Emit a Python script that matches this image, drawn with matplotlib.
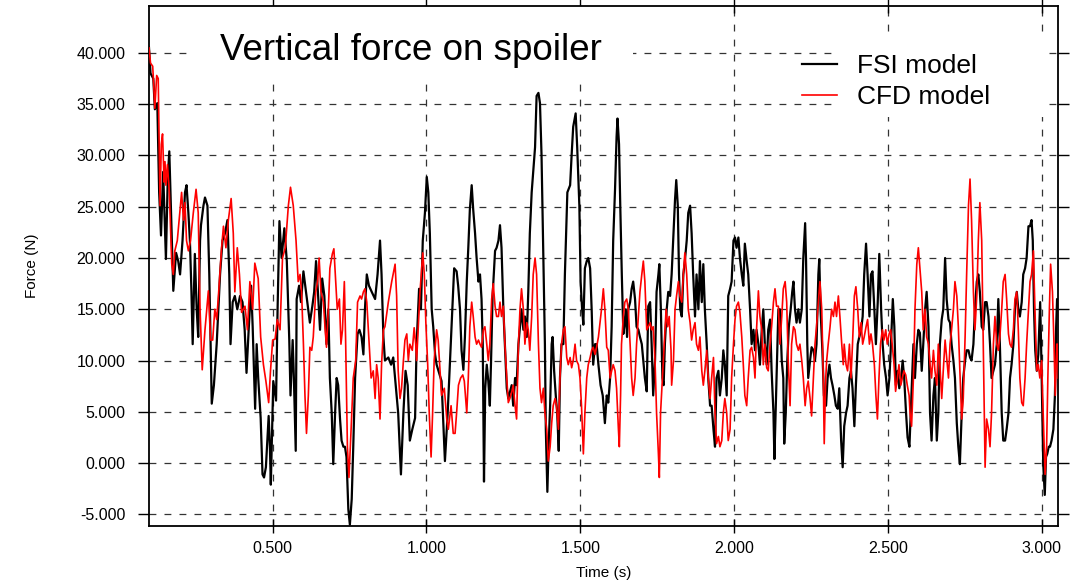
import numpy as np
import matplotlib
matplotlib.use("Agg")
import matplotlib.pyplot as plt
from matplotlib.patches import Rectangle
from matplotlib.ticker import FormatStrFormatter

plt.rcParams['font.family'] = ['Liberation Sans', 'DejaVu Sans']

# time (s), force (N)
fsi = np.array([
    (0.098, 40.5), (0.103, 38.0), (0.112, 37.5), (0.117, 34.5), (0.125, 35.1), (0.131, 26.4),
    (0.137, 22.2), (0.144, 28.4), (0.153, 19.9), (0.159, 27.8), (0.164, 30.4), (0.169, 25.1),
    (0.177, 16.8), (0.186, 20.5), (0.193, 19.7), (0.199, 18.4), (0.207, 21.7), (0.215, 26.4),
    (0.220, 27.1), (0.226, 24.4), (0.231, 21.7), (0.236, 16.7), (0.240, 11.6), (0.247, 20.4),
    (0.253, 15.0), (0.258, 12.3), (0.264, 21.7), (0.267, 23.2), (0.275, 25.1), (0.280, 25.9),
    (0.288, 25.1), (0.294, 18.4), (0.302, 5.8), (0.309, 7.6), (0.318, 11.6), (0.329, 18.4),
    (0.337, 21.7), (0.345, 22.4), (0.353, 23.7), (0.359, 18.4), (0.363, 11.6), (0.370, 15.7),
    (0.377, 16.3), (0.385, 15.0), (0.394, 16.3), (0.402, 15.7), (0.409, 13.0), (0.415, 8.8),
    (0.422, 13.0), (0.430, 17.3), (0.435, 13.3), (0.443, 5.3), (0.448, 11.6), (0.453, 8.3),
    (0.461, 4.4), (0.467, -1.1), (0.472, -1.4), (0.478, -0.4), (0.487, 4.6), (0.491, 1.6),
    (0.494, -2.1), (0.502, 8.0), (0.511, 6.1), (0.516, 15.0), (0.522, 23.6), (0.529, 20.0),
    (0.538, 22.9), (0.546, 19.7), (0.554, 12.0), (0.558, 6.6), (0.565, 12.0), (0.569, 8.3),
    (0.575, 1.2),
    (0.578, 16.0), (0.586, 17.3), (0.592, 15.7), (0.600, 18.7), (0.610, 16.3), (0.621, 13.7),
    (0.629, 15.3), (0.635, 16.7), (0.641, 19.7), (0.646, 17.3), (0.654, 13.0), (0.661, 18.0),
    (0.668, 16.3), (0.675, 11.6), (0.681, 15.0), (0.686, 8.3), (0.692, 4.9), (0.697, -0.1),
    (0.703, 4.9), (0.708, 8.3), (0.713, 7.6), (0.719, 4.3), (0.724, 2.2), (0.730, 1.6),
    (0.735, 1.6), (0.740, 0.6), (0.746, -4.5), (0.751, -6.0), (0.757, -3.5), (0.762, 1.6),
    (0.768, 8.3), (0.776, 12.6), (0.782, 13.0), (0.789, 12.3), (0.795, 10.6), (0.800, 15.0),
    (0.806, 18.4), (0.813, 17.3), (0.822, 16.7), (0.833, 16.0), (0.841, 18.4), (0.849, 21.7),
    (0.854, 18.4), (0.860, 12.3), (0.865, 10.0), (0.876, 10.3), (0.885, 9.6), (0.892, 10.3),
    (0.898, 8.3), (0.908, 4.9), (0.917, -1.1), (0.925, 4.9), (0.932, 9.0), (0.939, 7.6),
    (0.946, 2.2), (0.954, 3.3), (0.963, 4.4), (0.968, 11.6), (0.976, 17.0), (0.982, 15.0),
    (0.988, 21.7), (0.995, 24.4), (1.001, 27.9), (1.006, 26.4), (1.011, 22.4), (1.017, 15.0),
    (1.022, 13.3), (1.028, 10.6), (1.033, 9.6), (1.039, 9.0), (1.049, 8.0), (1.060, 0.2),
    (1.069, 4.9), (1.076, 9.6), (1.084, 15.0), (1.090, 19.0),
    (1.098, 18.7), (1.103, 17.3), (1.109, 15.0), (1.114, 11.0), (1.120, 9.1), (1.125, 12.3),
    (1.131, 17.7), (1.136, 21.0), (1.141, 24.7), (1.147, 27.1), (1.152, 24.7), (1.158, 22.4),
    (1.163, 20.0), (1.169, 17.7), (1.174, 18.4), (1.179, 16.0), (1.183, 11.6), (1.187, -1.8),
    (1.191, 7.3), (1.196, 9.6), (1.201, 8.0), (1.206, 5.6), (1.210, 10.0), (1.215, 16.3),
    (1.223, 20.7), (1.228, 21.0), (1.234, 21.7), (1.239, 23.2), (1.244, 21.0), (1.250, 15.0),
    (1.255, 11.6), (1.261, 7.3), (1.266, 6.3), (1.271, 6.9), (1.277, 7.6), (1.282, 5.6),
    (1.288, 8.3), (1.293, 7.6), (1.299, 11.6), (1.304, 13.3), (1.309, 15.0), (1.315, 13.0),
    (1.320, 14.3), (1.326, 12.3), (1.331, 16.7), (1.336, 22.4), (1.342, 26.4), (1.347, 28.4),
    (1.353, 30.8), (1.358, 35.8), (1.364, 36.1), (1.369, 35.1), (1.374, 30.1), (1.380, 20.0),
    (1.385, 11.6), (1.388, 3.3), (1.393, -2.8), (1.397, 1.6), (1.402, 5.6), (1.407, 11.6),
    (1.410, 12.3), (1.415, 9.0), (1.421, 6.3), (1.425, 4.9), (1.430, 1.2), (1.434, 8.3),
    (1.439, 11.6), (1.445, 11.6), (1.450, 18.4), (1.458, 26.4), (1.467, 27.1), (1.472, 30.1),
    (1.477, 32.8), (1.485, 34.1), (1.490, 30.8), (1.497, 25.1), (1.501, 17.7), (1.506, 15.0),
    (1.510, 13.5), (1.515, 19.0), (1.521, 19.7), (1.526, 20.0), (1.532, 19.0), (1.537, 15.0),
    (1.542, 9.6), (1.548, 11.6), (1.553, 11.6), (1.559, 9.6), (1.566, 7.6), (1.573, 6.6),
    (1.580, 3.9),
    (1.586, 6.6), (1.591, 5.9), (1.597, 8.3), (1.602, 13.3), (1.607, 21.7), (1.613, 26.7),
    (1.618, 31.8), (1.621, 33.6), (1.626, 31.1), (1.630, 25.1), (1.635, 18.4), (1.640, 12.6),
    (1.643, 13.3), (1.648, 15.0), (1.652, 12.3), (1.656, 15.0), (1.662, 15.7), (1.667, 17.0),
    (1.672, 17.7), (1.678, 16.0), (1.683, 13.3), (1.689, 13.0), (1.694, 12.3), (1.700, 11.6),
    (1.705, 10.0), (1.710, 8.3), (1.716, 7.0), (1.721, 15.3), (1.727, 15.7), (1.732, 11.6),
    (1.737, 6.6), (1.743, 10.0), (1.748, 16.7), (1.754, 18.4), (1.757, 19.4), (1.762, 15.0),
    (1.767, 8.3), (1.771, 7.6), (1.775, 11.6), (1.781, 15.0), (1.786, 16.7), (1.792, 16.3),
    (1.797, 18.4), (1.802, 21.7), (1.808, 25.7), (1.812, 27.6), (1.817, 25.1), (1.821, 18.4),
    (1.825, 15.0), (1.830, 14.3), (1.835, 18.4), (1.840, 19.7), (1.846, 21.7), (1.851, 24.4),
    (1.857, 25.1), (1.862, 22.4), (1.867, 18.4), (1.873, 14.3), (1.878, 18.4), (1.884, 15.0),
    (1.889, 19.7), (1.895, 15.7), (1.900, 19.4), (1.905, 15.0), (1.911, 11.6), (1.916, 8.3),
    (1.922, 5.6), (1.927, 5.6), (1.933, 3.3), (1.938, 1.6), (1.943, 8.3), (1.949, 9.0),
    (1.954, 6.6), (1.960, 8.3), (1.965, 11.0), (1.970, 9.6), (1.976, 6.6), (1.981, 16.3),
    (1.987, 17.0), (1.992, 17.7), (1.998, 21.7), (2.003, 22.0), (2.008, 21.0), (2.014, 22.0),
    (2.019, 20.0), (2.025, 18.4), (2.030, 17.3), (2.035, 21.4), (2.041, 19.7), (2.046, 18.4),
    (2.052, 15.0), (2.057, 11.6), (2.063, 13.0), (2.068, 11.0), (2.073, 13.0), (2.079, 11.6),
    (2.084, 9.6),
    (2.090, 13.0), (2.095, 15.0), (2.100, 11.6), (2.106, 9.6), (2.111, 13.0), (2.117, 14.0),
    (2.122, 9.0), (2.128, 4.9), (2.131, 0.4), (2.135, 4.9), (2.141, 11.6), (2.144, 15.0),
    (2.149, 15.0), (2.155, 10.0), (2.160, 8.3), (2.163, 1.9), (2.168, 4.9), (2.173, 10.0),
    (2.178, 13.3), (2.184, 15.0), (2.189, 16.7), (2.193, 17.7), (2.198, 15.0), (2.203, 13.7),
    (2.209, 15.0), (2.214, 13.7), (2.220, 15.0), (2.225, 20.0), (2.231, 23.4), (2.234, 19.7),
    (2.238, 11.6), (2.241, 8.3), (2.247, 10.0), (2.252, 11.3), (2.258, 11.0), (2.263, 10.0),
    (2.268, 11.6), (2.274, 18.4), (2.277, 19.9), (2.281, 15.0), (2.287, 11.0), (2.292, 6.6),
    (2.299, 5.6), (2.304, 8.3), (2.310, 9.6), (2.315, 8.3), (2.320, 7.6), (2.326, 6.6),
    (2.331, 5.6), (2.337, 5.3), (2.342, 7.3), (2.348, 2.2), (2.353, -0.4), (2.358, 3.6),
    (2.364, 4.9), (2.369, 5.6), (2.375, 8.3), (2.380, 9.0), (2.385, 7.3), (2.391, 3.6),
    (2.396, 7.6), (2.402, 11.6), (2.407, 12.3), (2.413, 13.0), (2.418, 14.3), (2.423, 18.4),
    (2.429, 21.4), (2.434, 18.4), (2.440, 14.3), (2.445, 18.4), (2.450, 18.7), (2.456, 15.0),
    (2.461, 11.6), (2.467, 15.7), (2.472, 20.4), (2.478, 15.0), (2.483, 11.6), (2.488, 9.6),
    (2.494, 8.3), (2.499, 6.6), (2.505, 8.3), (2.510, 11.6), (2.516, 16.0), (2.521, 13.3),
    (2.526, 7.6), (2.532, 9.0), (2.537, 7.3), (2.543, 8.3), (2.548, 10.0), (2.553, 8.3),
    (2.559, 4.9), (2.564, 2.5), (2.570, 1.6),
    (2.583, 11.6), (2.588, 8.3), (2.594, 11.6), (2.599, 13.0), (2.604, 12.7), (2.610, 9.0),
    (2.615, 11.6), (2.621, 15.0), (2.626, 16.7), (2.632, 13.3), (2.637, 4.9), (2.642, 2.2),
    (2.648, 6.6), (2.653, 8.3), (2.659, 2.2), (2.664, 4.9), (2.669, 11.6), (2.675, 14.0),
    (2.680, 15.0), (2.686, 20.0), (2.691, 16.0), (2.697, 14.0), (2.702, 13.7), (2.707, 11.6),
    (2.713, 10.0), (2.718, 8.3), (2.724, 3.9), (2.729, 1.6), (2.734, -0.1), (2.740, 4.9),
    (2.745, 8.3), (2.751, 10.0), (2.756, 11.0), (2.762, 11.0), (2.767, 10.3), (2.772, 10.0),
    (2.778, 11.6), (2.783, 15.0), (2.789, 17.7), (2.794, 18.4), (2.799, 16.7), (2.805, 13.3),
    (2.810, 13.0), (2.816, 15.7), (2.821, 15.7), (2.827, 14.3), (2.832, 11.6), (2.837, 8.3),
    (2.843, 9.0), (2.848, 9.6), (2.854, 11.6), (2.859, 16.0), (2.864, 11.6), (2.870, 4.9),
    (2.875, 2.2), (2.881, 2.2), (2.886, 3.3), (2.892, 4.9), (2.897, 8.3), (2.902, 9.6),
    (2.908, 11.6), (2.913, 15.0), (2.919, 16.7), (2.924, 15.0), (2.929, 14.3), (2.935, 15.7),
    (2.940, 18.4), (2.946, 19.0), (2.951, 20.0), (2.957, 23.1), (2.962, 23.1), (2.967, 23.7),
    (2.971, 21.7), (2.975, 15.0), (2.979, 11.0), (2.984, 9.0), (2.989, 10.6), (2.995, 15.7),
    (2.998, 11.6), (3.002, 4.9), (3.005, -0.1), (3.010, -3.1), (3.014, 0.6), (3.018, 0.9),
    (3.023, 1.6), (3.027, 1.6), (3.032, 2.2), (3.038, 3.3), (3.043, 6.6), (3.047, 13.3),
    (3.050, 16.0), (3.054, 15.0),
])

cfd = np.array([
    (0.098, 40.5), (0.103, 39.0), (0.110, 38.7), (0.114, 36.5), (0.117, 34.6), (0.123, 37.8),
    (0.128, 37.5), (0.131, 31.1), (0.134, 25.1), (0.138, 31.1), (0.142, 32.1), (0.147, 27.4),
    (0.150, 29.4), (0.153, 27.1), (0.158, 29.1), (0.164, 26.4), (0.172, 19.4), (0.177, 18.4),
    (0.182, 20.7), (0.190, 21.7), (0.196, 23.7), (0.204, 26.4), (0.210, 23.7), (0.215, 25.4),
    (0.220, 21.7), (0.226, 20.7), (0.233, 21.7), (0.242, 24.4), (0.251, 26.7), (0.258, 24.4),
    (0.264, 15.0), (0.271, 9.1), (0.280, 13.0), (0.291, 16.8), (0.298, 12.0), (0.305, 12.0),
    (0.312, 15.0), (0.318, 14.0), (0.323, 16.0), (0.334, 21.0), (0.340, 23.1), (0.348, 21.0),
    (0.356, 23.7), (0.365, 25.8), (0.372, 22.4), (0.377, 16.7), (0.385, 21.0), (0.392, 18.4),
    (0.399, 14.7), (0.410, 15.3), (0.418, 13.0), (0.426, 17.7), (0.435, 15.0), (0.442, 19.5),
    (0.453, 18.0), (0.461, 12.3), (0.470, 9.6), (0.478, 8.0), (0.487, 5.9), (0.493, 9.0),
    (0.500, 12.0), (0.508, 12.1), (0.515, 14.0), (0.524, 13.0), (0.532, 20.0), (0.541, 21.0),
    (0.551, 25.1), (0.558, 26.9), (0.567, 25.1), (0.576, 21.7), (0.583, 17.7),
    (0.589, 18.4), (0.594, 16.7), (0.600, 11.6), (0.605, 6.6), (0.610, 2.9), (0.616, 6.6),
    (0.621, 11.3), (0.627, 11.0), (0.632, 12.3), (0.640, 16.7), (0.646, 17.7), (0.651, 20.0),
    (0.657, 16.7), (0.665, 15.7), (0.670, 13.3), (0.675, 11.3), (0.681, 15.0), (0.686, 19.0),
    (0.694, 20.4), (0.699, 20.9), (0.705, 17.7), (0.710, 15.0), (0.717, 16.0), (0.722, 11.6),
    (0.727, 13.0), (0.733, 17.7), (0.737, 12.3), (0.743, 1.6), (0.748, -1.4), (0.755, 3.3),
    (0.762, 8.3), (0.770, 10.0), (0.776, 15.7), (0.784, 16.3), (0.789, 16.0), (0.795, 16.7),
    (0.800, 17.0), (0.806, 15.7), (0.811, 13.0), (0.820, 8.3), (0.827, 9.0), (0.833, 6.3),
    (0.838, 9.6), (0.843, 8.3), (0.849, 4.3), (0.854, 9.6), (0.860, 13.0), (0.865, 13.3),
    (0.876, 15.7), (0.887, 17.7), (0.898, 19.4), (0.903, 16.3), (0.908, 9.0), (0.914, 6.3),
    (0.919, 7.3), (0.925, 10.0), (0.930, 12.0), (0.936, 12.6), (0.941, 10.0), (0.946, 11.6),
    (0.954, 11.0), (0.960, 13.2), (0.965, 11.6), (0.968, 10.0), (0.973, 13.0), (0.979, 16.7),
    (0.988, 20.5), (0.993, 18.4), (0.998, 13.7), (1.004, 9.6), (1.009, 4.9), (1.015, 0.6),
    (1.020, 4.9), (1.025, 10.0), (1.033, 13.0), (1.038, 12.0), (1.049, 6.6), (1.058, 7.3),
    (1.066, 4.3), (1.071, 3.3), (1.080, 5.6), (1.087, 2.9),
    (1.093, 2.9), (1.098, 4.9), (1.104, 7.6), (1.111, 8.3), (1.118, 8.6), (1.123, 8.0),
    (1.131, 4.9), (1.136, 8.3), (1.141, 13.3), (1.147, 15.7), (1.152, 14.3), (1.158, 12.3),
    (1.163, 11.6), (1.169, 12.0), (1.174, 11.6), (1.179, 11.3), (1.185, 13.0), (1.190, 13.3),
    (1.196, 11.6), (1.201, 10.0), (1.206, 11.6), (1.212, 16.0), (1.217, 17.5), (1.223, 15.3),
    (1.228, 14.3), (1.234, 14.3), (1.239, 15.7), (1.244, 14.3), (1.250, 15.3), (1.255, 11.6),
    (1.261, 8.3), (1.266, 5.9), (1.271, 6.3), (1.277, 6.9), (1.282, 7.6), (1.288, 5.6),
    (1.293, 4.3), (1.299, 11.6), (1.304, 15.0), (1.309, 17.0), (1.315, 15.0), (1.320, 11.6),
    (1.326, 13.7), (1.331, 13.0), (1.336, 11.0), (1.342, 14.3), (1.347, 18.4), (1.353, 20.0),
    (1.358, 18.4), (1.364, 11.6), (1.369, 7.3), (1.374, 5.9), (1.380, 7.3), (1.385, 4.9),
    (1.391, 3.3), (1.396, 0.2), (1.402, 1.6), (1.407, 3.9), (1.412, 5.6), (1.418, 6.3),
    (1.423, 5.6), (1.429, 3.3), (1.434, 8.3), (1.439, 11.6), (1.445, 13.0), (1.450, 13.3),
    (1.456, 10.3), (1.461, 9.6), (1.467, 10.3), (1.472, 9.3), (1.477, 10.0), (1.483, 11.6),
    (1.488, 10.0), (1.494, 9.6), (1.499, 8.3), (1.504, 5.6), (1.510, 0.9), (1.515, 4.9),
    (1.521, 8.3), (1.526, 9.6), (1.532, 10.3), (1.537, 11.0), (1.542, 11.3), (1.548, 10.6),
    (1.553, 11.3), (1.559, 12.3), (1.564, 13.7), (1.569, 15.0), (1.575, 17.0), (1.580, 15.0),
    (1.586, 11.3), (1.591, 11.0), (1.597, 8.3), (1.602, 9.0), (1.607, 9.6), (1.613, 9.0),
    (1.618, 7.3), (1.624, 3.3), (1.627, 1.6), (1.631, 6.6), (1.634, 11.6), (1.640, 14.3),
    (1.645, 15.7), (1.651, 16.0), (1.656, 15.0), (1.662, 11.6), (1.667, 8.3), (1.672, 6.6),
    (1.678, 8.3), (1.683, 11.6), (1.689, 14.3), (1.694, 16.7), (1.700, 18.4), (1.705, 19.7),
    (1.710, 17.7), (1.716, 13.0), (1.721, 13.3), (1.727, 13.7), (1.732, 13.0), (1.737, 13.3),
    (1.743, 10.0), (1.748, 4.9), (1.754, 0.9), (1.757, -1.4), (1.761, 4.9), (1.767, 8.3),
    (1.773, 11.6), (1.779, 15.0), (1.784, 13.3), (1.789, 14.3), (1.795, 11.0), (1.797, 7.6),
    (1.803, 10.0), (1.808, 15.0), (1.813, 16.3), (1.819, 17.7), (1.824, 16.3), (1.830, 15.7),
    (1.835, 18.4), (1.840, 20.5), (1.846, 18.4), (1.851, 15.0), (1.857, 13.7), (1.862, 12.0),
    (1.867, 13.0), (1.873, 13.7), (1.878, 11.6), (1.884, 11.0), (1.889, 12.3), (1.895, 9.0),
    (1.900, 7.6), (1.905, 9.0), (1.911, 11.0), (1.916, 8.3), (1.922, 6.3), (1.927, 8.3),
    (1.933, 10.3), (1.938, 4.9), (1.943, 1.9), (1.949, 2.6), (1.954, 1.6), (1.960, 2.2),
    (1.965, 4.9), (1.970, 6.3), (1.976, 4.9), (1.981, 2.2), (1.987, 3.3), (1.992, 8.3),
    (1.998, 11.6), (2.003, 14.0), (2.008, 15.3), (2.014, 15.7), (2.019, 14.7), (2.025, 12.3),
    (2.030, 9.6), (2.035, 6.6), (2.041, 5.6), (2.046, 8.3), (2.052, 11.0), (2.057, 11.3),
    (2.063, 10.3), (2.068, 8.3), (2.073, 13.0), (2.079, 16.8), (2.084, 14.3),
    (2.090, 13.0), (2.095, 9.6), (2.100, 11.6), (2.106, 9.3), (2.111, 9.0), (2.117, 11.6),
    (2.122, 13.3), (2.128, 15.7), (2.133, 17.0), (2.138, 15.3), (2.144, 15.3), (2.149, 11.6),
    (2.155, 14.3), (2.160, 17.0), (2.166, 17.7), (2.171, 15.7), (2.176, 10.0), (2.182, 5.6),
    (2.187, 11.6), (2.193, 13.3), (2.198, 13.0), (2.203, 11.6), (2.209, 11.0), (2.214, 11.6),
    (2.220, 10.0), (2.225, 8.3), (2.231, 5.6), (2.236, 7.3), (2.241, 8.0), (2.247, 6.3),
    (2.252, 4.6), (2.258, 8.3), (2.263, 11.6), (2.268, 13.3), (2.274, 15.7), (2.279, 17.7),
    (2.285, 15.0), (2.290, 8.3), (2.293, 1.9), (2.298, 8.3), (2.301, 10.0), (2.306, 11.6),
    (2.312, 13.3), (2.317, 15.0), (2.323, 14.3), (2.328, 15.7), (2.333, 14.3), (2.339, 16.3),
    (2.344, 14.3), (2.350, 11.6), (2.355, 9.6), (2.358, 11.6), (2.364, 9.6), (2.369, 9.0),
    (2.375, 11.6), (2.380, 8.3), (2.385, 11.6), (2.391, 16.3), (2.396, 17.2), (2.402, 15.0),
    (2.407, 12.3), (2.413, 13.7), (2.418, 11.6), (2.423, 12.3), (2.429, 13.3), (2.434, 14.0),
    (2.440, 11.6), (2.445, 12.6), (2.450, 11.6), (2.456, 9.6), (2.461, 6.6), (2.466, 4.3),
    (2.471, 8.3), (2.476, 11.6), (2.482, 13.0), (2.487, 12.0), (2.493, 13.0), (2.498, 11.6),
    (2.504, 12.6), (2.509, 13.0), (2.514, 11.6), (2.520, 9.6), (2.525, 7.0), (2.531, 8.3),
    (2.536, 9.6), (2.542, 7.6), (2.547, 8.3), (2.552, 9.0), (2.558, 8.6), (2.563, 7.6),
    (2.569, 6.6),
    (2.572, 4.9), (2.577, 3.6), (2.583, 8.3), (2.588, 15.0), (2.594, 19.4), (2.599, 21.0),
    (2.604, 19.0), (2.610, 16.7), (2.615, 13.0), (2.621, 15.0), (2.626, 12.3), (2.632, 11.6),
    (2.637, 9.6), (2.642, 8.3), (2.648, 11.0), (2.653, 9.0), (2.659, 7.6), (2.664, 11.6),
    (2.669, 9.6), (2.675, 6.3), (2.680, 9.0), (2.686, 12.0), (2.691, 10.3), (2.697, 8.3),
    (2.702, 11.6), (2.707, 13.0), (2.713, 15.0), (2.718, 17.7), (2.724, 16.3), (2.729, 13.3),
    (2.734, 9.0), (2.740, 4.3), (2.745, 6.3), (2.751, 12.3), (2.756, 18.4), (2.762, 25.1),
    (2.767, 27.7), (2.772, 23.7), (2.778, 16.7), (2.783, 13.0), (2.789, 16.3), (2.794, 21.7),
    (2.799, 25.4), (2.805, 21.7), (2.808, 15.7), (2.812, 8.3), (2.816, -0.4), (2.821, 4.3),
    (2.827, 3.3), (2.832, 1.6), (2.837, 4.9), (2.843, 11.6), (2.848, 14.3), (2.854, 11.6),
    (2.859, 11.0), (2.864, 12.3), (2.870, 15.0), (2.875, 17.7), (2.881, 18.4), (2.886, 16.0),
    (2.892, 12.6), (2.897, 11.6), (2.902, 11.3), (2.908, 13.0), (2.913, 16.0), (2.919, 16.7),
    (2.924, 13.0), (2.929, 8.3), (2.935, 5.9), (2.940, 5.6), (2.946, 8.3), (2.951, 11.6),
    (2.957, 15.0), (2.962, 17.7), (2.967, 18.4), (2.973, 20.7), (2.978, 15.0), (2.984, 9.0),
    (2.989, 9.6), (2.994, 8.3), (3.000, 10.0), (3.003, 6.6), (3.008, 1.6), (3.011, -1.1),
    (3.016, 1.6), (3.020, 8.3), (3.025, 15.0), (3.029, 19.4), (3.035, 16.7), (3.040, 11.6),
    (3.044, 6.6), (3.049, 11.6), (3.052, 11.6), (3.054, 8.3),
])

series_labels = ["FSI model", "CFD model"]
title = "Vertical force on spoiler"
x_ticks = [0.5, 1.0, 1.5, 2.0, 2.5, 3.0]
y_ticks = [-5, 0, 5, 10, 15, 20, 25, 30, 35, 40]

fig = plt.figure(figsize=(10.86, 5.83), dpi=100)
ax = fig.add_axes([0.1372, 0.0983, 0.8373, 0.8919])

ax.plot(fsi[:, 0], fsi[:, 1], color="black", lw=1.6, label=series_labels[0], zorder=3)
ax.plot(cfd[:, 0], cfd[:, 1], color="red", lw=1.2, label=series_labels[1], zorder=4)

ax.set_xlim(0.098, 3.054)
ax.set_ylim(-6.1, 44.6)
ax.set_xticks(x_ticks)
ax.set_yticks(y_ticks)
ax.xaxis.set_major_formatter(FormatStrFormatter("%.3f"))
ax.yaxis.set_major_formatter(FormatStrFormatter("%.3f"))
ax.tick_params(axis="x", direction="inout", length=10, width=1, top=True, labelsize=11.5, pad=6)
ax.tick_params(axis="y", direction="out", length=8, width=1, right=True, labelsize=11.5, pad=9)
for s in ax.spines.values():
    s.set_linewidth(1.3)

ax.set_axisbelow(True)
ax.grid(True, color="#333333", lw=0.9, linestyle=(0, (5.5, 6.5)))

# blank areas behind the title and legend text
ax.add_patch(Rectangle((0.0473, 0.861), 0.485, 0.14, transform=ax.transAxes,
                       facecolor="white", edgecolor="none", zorder=1))
ax.add_patch(Rectangle((0.754, 0.786), 0.230, 0.152, transform=ax.transAxes,
                       facecolor="white", edgecolor="none", zorder=1))

ax.text(0.078, 0.8956, title, transform=ax.transAxes, fontsize=26.5,
        ha="left", va="baseline", zorder=5)

ax.legend(loc="upper left", bbox_to_anchor=(0.718, 0.907), frameon=False, fontsize=19,
          handlelength=1.33, handletextpad=0.75, labelspacing=0.28,
          borderpad=0, borderaxespad=0)

ax.set_ylabel("Force (N)", fontsize=11)
ax.set_xlabel("Time (s)", fontsize=11)
ax.yaxis.set_label_coords(-0.121, 0.5)
ax.xaxis.set_label_coords(0.5, -0.077)

fig.savefig("out.png", dpi=100)
